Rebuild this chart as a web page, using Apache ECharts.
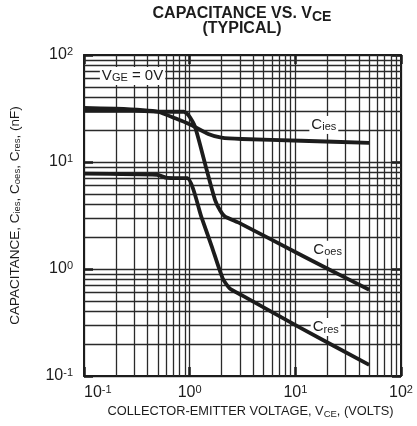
<!DOCTYPE html>
<html>
<head>
<meta charset="utf-8">
<script src="https://cdn.jsdelivr.net/npm/echarts@6/dist/echarts.min.js"></script>
<style>
  html, body { margin: 0; padding: 0; background: #fff; }
  #chart { width: 417px; height: 426px; }
</style>
</head>
<body>
<div id="chart"></div>
<script>
// curves (VCE in volts, C in nF)
const ciesV = [0.1, 0.2, 0.36, 0.5, 0.73, 1.0, 1.5, 2.0, 3.1, 11.3, 50];
const ciesC = [32, 31.5, 30.6, 29.5, 25.6, 22.5, 18.3, 16.9, 16.4, 15.8, 15.1];

const coesV = [0.1, 0.3, 0.6, 0.88, 0.97, 1.13, 1.45, 1.74, 1.95, 2.15, 3.0, 11.3, 20, 50];
const coesC = [30, 30, 29.5, 29.5, 27.5, 21, 8.4, 4.4, 3.5, 3.1, 2.67, 1.35, 1.01, 0.64];

const cresV = [0.1, 0.49, 0.61, 0.95, 1.3, 1.62, 2.05, 2.39, 3.1, 11.3, 50];
const cresC = [7.8, 7.6, 7.1, 7.05, 3.0, 1.62, 0.82, 0.66, 0.57, 0.28, 0.127];

// minor log grid lines
const xGridLines = [0.2, 0.3, 0.4, 0.5, 0.6, 0.7, 0.8, 0.9, 2, 3, 4, 5, 6, 7, 8, 9, 20, 30, 40, 50, 60, 70, 80, 90];
const yGridLines = [0.2, 0.3, 0.4, 0.5, 0.6, 0.7, 0.8, 0.9, 2, 3, 4, 5, 6, 7, 8, 9, 20, 30, 40, 50, 60, 70, 80, 90];

const ink = '#1c1c1c';
const gridInk = '#2a2a2a';
const font = 'Liberation Sans, Arial, sans-serif';

const pairs = (xs, ys) => xs.map((x, i) => [x, ys[i]]);

const supRich = {
  sup: { fontSize: 11, fontFamily: font, color: ink, verticalAlign: 'top', padding: [0, 0, 6, 0] }
};
const subRich = {
  sub: { fontSize: 11, fontFamily: font, color: ink, verticalAlign: 'bottom', padding: [5, 0, 0, 0] }
};
const nameRich = {
  sub: { fontSize: 9.5, fontFamily: font, color: ink, verticalAlign: 'bottom', padding: [4, 0, 0, 0] }
};
const powerLabel = v => '10{sup|' + Math.round(Math.log10(v)) + '}';

function tagPoint(coord, text) {
  return {
    coord: coord,
    label: {
      show: true,
      position: 'inside',
      formatter: text,
      color: ink,
      fontFamily: font,
      fontSize: 15,
      backgroundColor: '#fff',
      padding: [1, 2, 1, 2],
      rich: subRich
    }
  };
}

function curve(name, xs, ys, tags) {
  return {
    name: name,
    type: 'line',
    data: pairs(xs, ys),
    showSymbol: false,
    smooth: 0.2,
    lineStyle: { color: ink, width: 3.8, cap: 'butt', join: 'round' },
    silent: true,
    z: 5,
    markPoint: {
      symbol: 'rect',
      symbolSize: 0,
      silent: true,
      data: tags
    }
  };
}

const logAxis = {
  type: 'log',
  logBase: 10,
  min: 0.1,
  max: 100
};

const chart = echarts.init(document.getElementById('chart'));
chart.setOption({
  animation: false,
  graphic: [{
    type: 'text',
    x: 242,
    y: 6,
    style: {
      text: '{m|CAPACITANCE VS. V}{sub|CE}\n{m|(TYPICAL)}',
      textAlign: 'center',
      fill: ink,
      font: 'bold 16px ' + font,
      rich: {
        m: { fontSize: 16, fontWeight: 'bold', fontFamily: font, lineHeight: 15, verticalAlign: 'top' },
        sub: { fontSize: 14, fontWeight: 'bold', fontFamily: font, lineHeight: 15, verticalAlign: 'top', padding: [4, 0, 0, 0] }
      }
    }
  }],
  grid: { left: 81, right: 16, top: 55, bottom: 50 },
  xAxis: [
    Object.assign({}, logAxis, {
      position: 'bottom',
      name: 'COLLECTOR-EMITTER VOLTAGE, V{sub|CE}, (VOLTS)',
      nameLocation: 'middle',
      nameGap: 26,
      nameTextStyle: { color: ink, fontFamily: font, fontSize: 12.8, padding: [0, 0, 0, 16], rich: nameRich },
      axisLine: { lineStyle: { color: ink, width: 2 } },
      axisTick: { inside: true, length: 9, lineStyle: { color: ink, width: 2.5 } },
      splitLine: { show: true, lineStyle: { color: gridInk, width: 1.3 } },
      axisLabel: { formatter: powerLabel, color: ink, fontFamily: font, fontSize: 16, margin: 8, alignMinLabel: 'left', rich: supRich }
    }),
    Object.assign({}, logAxis, {
      position: 'top',
      axisLine: { lineStyle: { color: ink, width: 2 } },
      axisTick: { inside: true, length: 9, lineStyle: { color: ink, width: 2.5 } },
      splitLine: { show: false },
      axisLabel: { show: false }
    })
  ],
  yAxis: [
    Object.assign({}, logAxis, {
      position: 'left',
      name: 'CAPACITANCE, C{sub|ies}, C{sub|oes}, C{sub|res}, (nF)',
      nameLocation: 'middle',
      nameRotate: 90,
      nameGap: 62,
      nameTextStyle: { color: ink, fontFamily: font, fontSize: 13.5, rich: nameRich },
      axisLine: { lineStyle: { color: ink, width: 2 } },
      axisTick: { inside: true, length: 9, lineStyle: { color: ink, width: 2.5 } },
      splitLine: { show: true, lineStyle: { color: gridInk, width: 1.3 } },
      axisLabel: { formatter: powerLabel, color: ink, fontFamily: font, fontSize: 16, margin: 11, rich: supRich }
    }),
    Object.assign({}, logAxis, {
      position: 'right',
      axisLine: { lineStyle: { color: ink, width: 2 } },
      axisTick: { inside: true, length: 9, lineStyle: { color: ink, width: 2.5 } },
      splitLine: { show: false },
      axisLabel: { show: false }
    })
  ],
  series: [
    {
      // grid only
      type: 'line',
      data: [],
      silent: true,
      markLine: {
        silent: true,
        symbol: 'none',
        label: { show: false },
        lineStyle: { color: gridInk, width: 1.3, type: 'solid' },
        data: xGridLines.map(v => ({ xAxis: v })).concat(yGridLines.map(v => ({ yAxis: v })))
      }
    },
    curve('Cies', ciesV, ciesC, [tagPoint([18.6, 22.2], 'C{sub|ies}'), tagPoint([0.288, 63.7], 'V{sub|GE} = 0V')]),
    curve('Coes', coesV, coesC, [tagPoint([20.2, 1.51], 'C{sub|oes}')]),
    curve('Cres', cresV, cresC, [tagPoint([19.4, 0.287], 'C{sub|res}')])
  ]
});
</script>
</body>
</html>
